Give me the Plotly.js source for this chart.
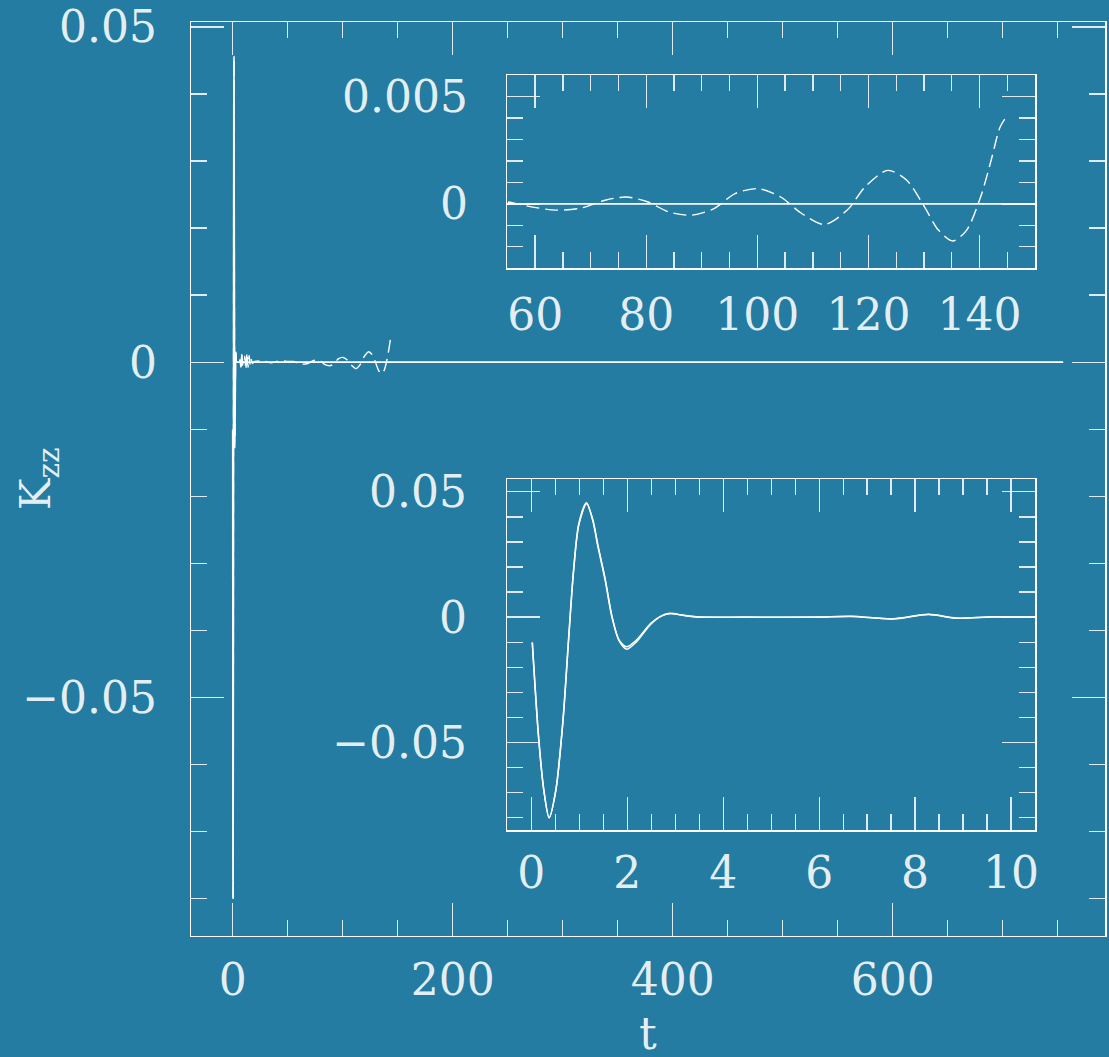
<!DOCTYPE html>
<html>
<head>
<meta charset="utf-8">
<script src="https://cdn.plot.ly/plotly-3.0.1.min.js"></script>
<style>html,body{margin:0;padding:0;background:#257ca2;}#chart{width:1109px;height:1057px;}</style>
</head>
<body>
<div id="chart"></div>
<script>
// Series A (solid): t and K_zz
const tA = [0.02, 0.15, 0.26, 0.37, 0.51, 0.66, 0.77, 0.88, 0.99, 1.15, 1.28, 1.39, 1.54, 1.68, 1.83, 1.99, 2.2, 2.49, 2.71, 2.89, 3.15, 3.44, 4.47, 5.93, 6.67, 7.54, 8.28, 8.86, 9.6, 10.47, 20, 60, 150, 400, 755];
const kA = [-0.0101, -0.0476, -0.0689, -0.0799, -0.069, -0.041, -0.0105, 0.0187, 0.0373, 0.0456, 0.0386, 0.028, 0.0147, 0.0001, -0.0092, -0.0118, -0.0090, -0.0025, 0.0005, 0.0015, 0.0008, 0.0001, 0, 0, 0.0003, -0.0007, 0.0011, -0.0004, 0.0001, 0, 0, 0, 0, 0, 0];

// Series B (dashed in the upper inset): t and K_zz
const tB = [0.02, 0.15, 0.26, 0.37, 0.51, 0.66, 0.77, 0.88, 0.99, 1.15, 1.28, 1.39, 1.54, 1.68, 1.83, 1.99, 2.2, 2.49, 2.71, 2.89, 3.15, 3.44, 4.47, 5.93, 6.67, 7.54, 8.28, 8.86, 9.6, 10.47, 11, 12, 13, 14, 15, 16, 17, 18, 20, 25, 30, 35, 40, 45, 50, 55, 59.3, 63.7, 68.2, 72.6, 76.4, 80.2, 84, 88.1, 92.2, 96, 100.1, 104.2, 108, 112.1, 116.2, 119.4, 123.5, 126.9, 130.1, 132.6, 135.2, 137.7, 140.2, 142.1, 143.7, 145];
const kB = [-0.0101, -0.0478, -0.0692, -0.0801, -0.0692, -0.0412, -0.0108, 0.0183, 0.0368, 0.0452, 0.0390, 0.0285, 0.0152, 0.0004, -0.0095, -0.0128, -0.0097, -0.0028, 0.0004, 0.0014, 0.0008, 0.0001, 0, 0, 0.0003, -0.0007, 0.0011, -0.0004, 0.0001, 0, 0.0009, -0.0011, 0.0014, -0.0008, 0.0010, -0.0005, 0.0004, -0.0002, 0.0001, 0.0002, 0.0001, -0.0001, 0.0001, 0.0002, 0.0001, 0.00009, -0.00014, -0.00029, -0.0002, 0.00017, 0.00032, 0.0001, -0.00037, -0.00053, -0.00022, 0.00048, 0.00071, 0.00032, -0.00045, -0.00096, -0.00029, 0.00079, 0.00156, 0.0011, -0.00014, -0.00122, -0.00173, -0.00122, 0.00032, 0.00203, 0.00357, 0.00412];

const xTitle = 't';
const yTitle = 'K<sub>zz</sub>';

const BG = '#257ca2';
const FG = 'rgba(255,255,255,0.9)';
const TICK = 'rgba(255,255,255,0.85)';
const FONT = {family: 'DejaVu Serif', size: 44, color: FG};

const lineA = {color: '#ffffff', width: 1.6, shape: 'spline', smoothing: 0.8};
const lineBdash = {color: '#ffffff', width: 1.4, shape: 'spline', smoothing: 0.8, dash: '13px,6px'};
const lineBsolid = {color: '#ffffff', width: 1.4, shape: 'spline', smoothing: 0.8};

const traces = [
  {x: tA, y: kA, xaxis: 'x', yaxis: 'y', mode: 'lines', line: lineA, hoverinfo: 'skip'},
  {x: tB, y: kB, xaxis: 'x', yaxis: 'y', mode: 'lines', line: lineBdash, hoverinfo: 'skip'},
  {x: tA, y: kA, xaxis: 'x2', yaxis: 'y2', mode: 'lines', line: lineA, hoverinfo: 'skip'},
  {x: tB, y: kB, xaxis: 'x2', yaxis: 'y2', mode: 'lines', line: lineBdash, hoverinfo: 'skip'},
  {x: tA, y: kA, xaxis: 'x3', yaxis: 'y3', mode: 'lines', line: lineA, hoverinfo: 'skip'},
  {x: tB, y: kB, xaxis: 'x3', yaxis: 'y3', mode: 'lines', line: lineBsolid, hoverinfo: 'skip'}
];

function ax(opts) {
  return Object.assign({
    showgrid: false, zeroline: false, showline: true, linecolor: '#ffffff', linewidth: 1.5,
    mirror: 'ticks', ticks: 'inside', ticklen: 33, tickwidth: 1.3, tickcolor: TICK,
    tickfont: FONT, automargin: false, fixedrange: true
  }, opts);
}

const layout = {
  width: 1109, height: 1057,
  margin: {l: 0, r: 0, t: 0, b: 0},
  paper_bgcolor: BG, plot_bgcolor: BG,
  showlegend: false,
  xaxis: ax({domain: [0.1725, 0.9964], anchor: 'y', range: [-37.6, 793], tick0: 0, dtick: 200,
    minor: {dtick: 50, ticklen: 16, ticks: 'inside', tickcolor: TICK, tickwidth: 1.3}, ticklabelstandoff: 5}),
  yaxis: ax({domain: [0.1145, 0.9789], anchor: 'x', range: [-0.0856, 0.0507], tick0: 0, dtick: 0.05,
    minor: {dtick: 0.01, ticklen: 16, ticks: 'inside', tickcolor: TICK, tickwidth: 1.3}, ticklabelstandoff: 24}),
  xaxis2: ax({domain: [0.4575, 0.9333], anchor: 'y2', range: [55, 150], tick0: 0, dtick: 20,
    minor: {dtick: 5, ticklen: 16, ticks: 'inside', tickcolor: TICK, tickwidth: 1.3}, ticklabelstandoff: 7}),
  yaxis2: ax({domain: [0.7462, 0.9290], anchor: 'x2', range: [-0.003, 0.006], tick0: 0, dtick: 0.005,
    minor: {dtick: 0.001, ticklen: 16, ticks: 'inside', tickcolor: TICK, tickwidth: 1.3}, ticklabelstandoff: 29}),
  xaxis3: ax({domain: [0.4575, 0.9333], anchor: 'y3', range: [-0.5, 10.5], tick0: 0, dtick: 2,
    minor: {dtick: 0.5, ticklen: 16, ticks: 'inside', tickcolor: TICK, tickwidth: 1.3}, ticklabelstandoff: 3}),
  yaxis3: ax({domain: [0.2145, 0.5466], anchor: 'x3', range: [-0.085, 0.055], tick0: 0, dtick: 0.05,
    minor: {dtick: 0.01, ticklen: 16, ticks: 'inside', tickcolor: TICK, tickwidth: 1.3}, ticklabelstandoff: 30}),
  annotations: [
    {text: yTitle, xref: 'paper', yref: 'paper', x: 38 / 1109, y: 1 - 479 / 1057, xanchor: 'center', yanchor: 'middle',
     textangle: -90, showarrow: false, font: {family: 'DejaVu Serif', size: 42, color: FG}},
    {text: xTitle, xref: 'paper', yref: 'paper', x: 648 / 1109, y: 1 - 1006 / 1057, xanchor: 'center', yanchor: 'top',
     showarrow: false, font: {family: 'DejaVu Serif', size: 44, color: FG}}
  ]
};

Plotly.newPlot('chart', traces, layout, {displayModeBar: false, staticPlot: true});
</script>
</body>
</html>
